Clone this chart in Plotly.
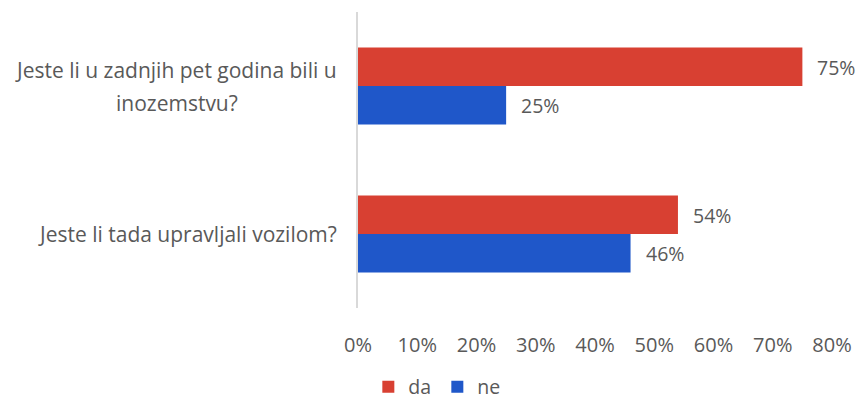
import plotly.graph_objects as go

# Survey questions (top to bottom) and answer shares
questions = [
    "Jeste li u zadnjih pet godina bili u<br>inozemstvu?",
    "Jeste li tada upravljali vozilom?",
]
da_values = [0.75, 0.54]
ne_values = [0.25, 0.46]
x_ticks = [0, 0.1, 0.2, 0.3, 0.4, 0.5, 0.6, 0.7, 0.8]

RED = "#D84032"
BLUE = "#1F57C9"
TEXT = "#595959"
FONT = "Open Sans"
SIZE = 21
LINE_GAP = 33  # spacing between wrapped lines of a question label

fig = go.Figure()
fig.add_trace(go.Bar(name="da", y=questions, x=da_values, orientation="h",
                     marker=dict(color=RED, line=dict(width=0))))
fig.add_trace(go.Bar(name="ne", y=questions, x=ne_values, orientation="h",
                     marker=dict(color=BLUE, line=dict(width=0))))

# Value labels just past the end of each bar
for vals, shift in ((da_values, -19), (ne_values, 19)):
    for q, v in zip(questions, vals):
        fig.add_annotation(x=v, y=q, text=f"{v:.0%}", showarrow=False,
                           xanchor="left", xshift=13, yshift=-shift,
                           font=dict(family=FONT, size=SIZE - 1.5, color=TEXT))

# Question labels: wrapped lines stacked and centred on each other,
# block right-aligned to the axis
for q in questions:
    lines = q.split("<br>")
    n = len(lines)
    first_right = None
    for i, line in enumerate(lines):
        fig.add_annotation(x=0, xref="paper", y=q, text=line, showarrow=False,
                           xanchor="right" if i == 0 else "center",
                           xshift=-19 if i == 0 else -181,
                           yshift=((n - 1) / 2 - i) * LINE_GAP,
                           font=dict(family=FONT, size=SIZE, color=TEXT))

fig.update_layout(
    width=866, height=401,
    margin=dict(l=358, r=34, t=12, b=93, autoexpand=False),
    paper_bgcolor="white", plot_bgcolor="white",
    barmode="group", bargap=0.48, bargroupgap=0,
    font=dict(family=FONT, size=SIZE, color=TEXT),
    showlegend=True,
    legend=dict(orientation="h", x=0.505, xref="container", xanchor="center",
                yref="container", y=0.035, yanchor="middle",
                font=dict(family=FONT, size=SIZE - 1.5, color=TEXT),
                itemwidth=30, entrywidth=24, tracegroupgap=0),
    xaxis=dict(range=[0, 0.8], tickvals=x_ticks, tickformat=".0%",
               showgrid=False, zeroline=False, showline=False,
               ticks="outside", ticklen=19, tickcolor="rgba(0,0,0,0)",
               tickfont=dict(family=FONT, size=SIZE - 1, color=TEXT), fixedrange=True),
    yaxis=dict(autorange="reversed", showticklabels=False, showgrid=False,
               zeroline=False, showline=True, linecolor="#D9D9D9", linewidth=1.5,
               ticks=""),
)

fig.write_html("out.html")
